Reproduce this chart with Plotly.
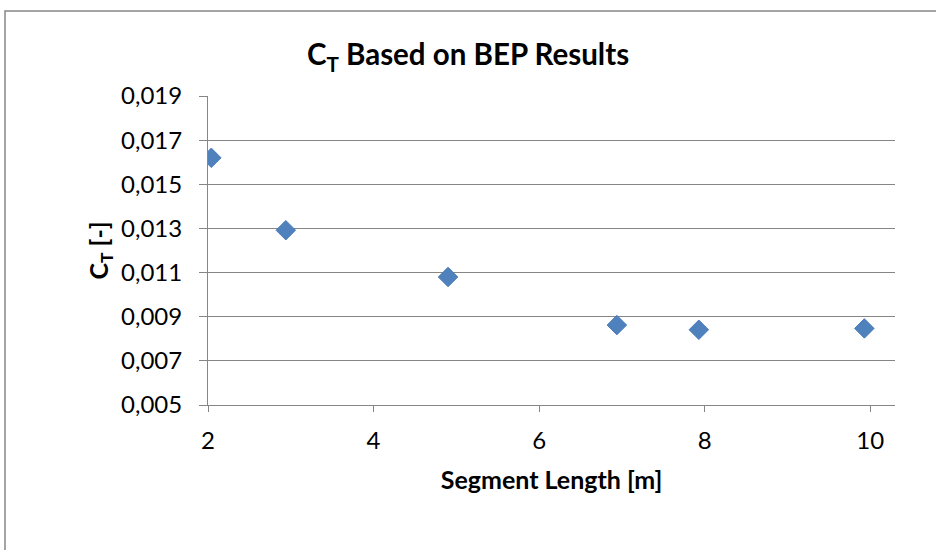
import plotly.graph_objects as go

segment_length = [2.04, 2.94, 4.90, 6.94, 7.93, 9.93]
ct_values = [0.0162, 0.01292, 0.0108, 0.00862, 0.00841, 0.00847]
y_ticks = [0.005, 0.007, 0.009, 0.011, 0.013, 0.015, 0.017, 0.019]
x_ticks = [2, 4, 6, 8, 10]

FONT = "Lato"
GRAY = "#868686"

fig = go.Figure()
fig.add_trace(go.Scatter(
    x=segment_length, y=ct_values, mode="markers",
    marker=dict(symbol="diamond", size=15, color="#4F81BD",
                line=dict(color="#4A7EBB", width=1)),
    showlegend=False,
))

fig.update_layout(
    width=936, height=550,
    margin=dict(l=208, r=41, t=96, b=145),
    paper_bgcolor="white", plot_bgcolor="white",
    separators=",.",
    font=dict(family=FONT, color="black"),
    title=dict(text="<b>C<sub>T</sub> Based on BEP Results</b>",
               x=0.5, xref="container", xanchor="center",
               y=1 - 55 / 550, yref="container", yanchor="middle",
               font=dict(family=FONT, size=29.5, color="black")),
    xaxis=dict(range=[2, 10.3], tickvals=x_ticks, ticks="outside", ticklen=6,
               tickcolor=GRAY, showline=True, linecolor=GRAY, linewidth=1,
               showgrid=False, zeroline=False,
               tickfont=dict(family=FONT, size=24, color="black"),
               ticklabelstandoff=8,
               title=dict(text="<b>Segment Length [m]</b>", standoff=18,
                          font=dict(family=FONT, size=25, color="black"))),
    yaxis=dict(range=[0.005, 0.019], tickvals=y_ticks, tickformat=".3f",
               ticks="outside", ticklen=8, tickcolor=GRAY,
               showline=True, linecolor=GRAY, linewidth=1,
               showgrid=True, gridcolor=GRAY, gridwidth=1.2, zeroline=False,
               tickfont=dict(family=FONT, size=24, color="black"),
               ticklabelstandoff=12,
               title=dict(text="<b>C<sub>T</sub> [-]</b>", standoff=5,
                          font=dict(family=FONT, size=25, color="black"))),
    shapes=[dict(type="rect", xref="paper", yref="paper",
                 x0=(5 - 208) / 687, x1=1.2, y0=-0.6, y1=(405 - 11) / 309,
                 line=dict(color=GRAY, width=1.5), fillcolor="rgba(0,0,0,0)",
                 layer="below")],
)

fig.write_html("out.html", config={"displayModeBar": False},
               post_script="document.body.style.margin='0';")
